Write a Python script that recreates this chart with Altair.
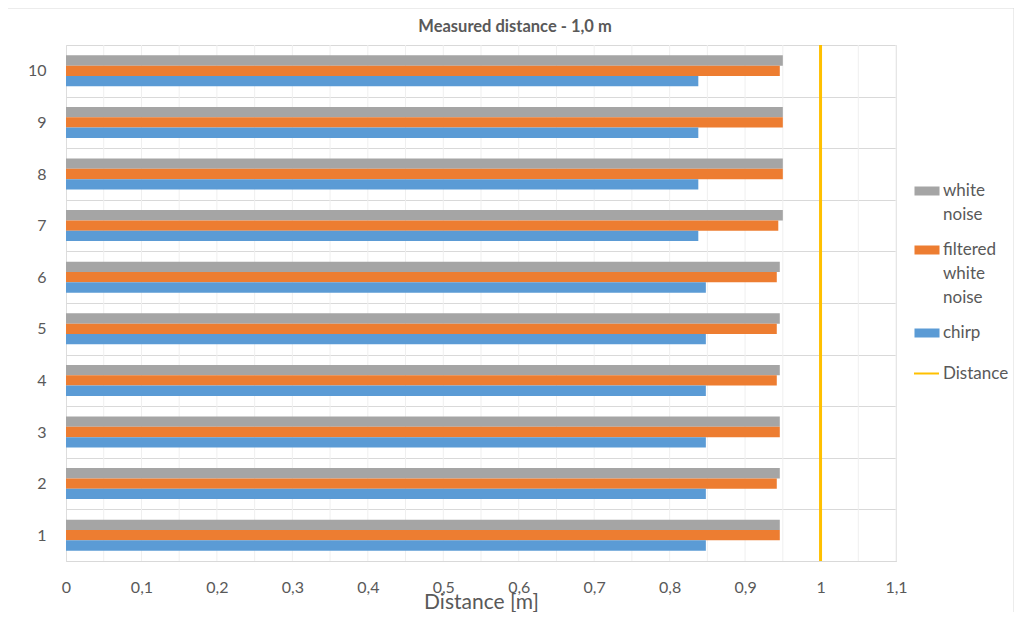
import altair as alt
import pandas as pd

categories = ["1", "2", "3", "4", "5", "6", "7", "8", "9", "10"]
white_noise = [0.946, 0.946, 0.946, 0.946, 0.946, 0.946, 0.95, 0.95, 0.95, 0.95]
filtered_white_noise = [0.946, 0.942, 0.946, 0.942, 0.942, 0.942, 0.944, 0.95, 0.95, 0.946]
chirp = [0.848, 0.848, 0.848, 0.848, 0.848, 0.848, 0.838, 0.838, 0.838, 0.838]
series = ["white noise", "filtered white noise", "chirp"]
series_colors = ["#A5A5A5", "#ED7D31", "#5B9BD5"]
distance = [1.0]
x_ticks = [0, 0.1, 0.2, 0.3, 0.4, 0.5, 0.6, 0.7, 0.8, 0.9, 1.0, 1.1]
x_grid = [0.05, 0.1, 0.15, 0.2, 0.25, 0.3, 0.35, 0.4, 0.45, 0.5, 0.55, 0.6,
          0.65, 0.7, 0.75, 0.8, 0.85, 0.9, 0.95, 1.0, 1.05, 1.1]

FONT = "Lato"
TXT = "#595959"

rows = []
for i, c in enumerate(categories):
    for s, vals in zip(series, [white_noise, filtered_white_noise, chirp]):
        rows.append({"run": c, "series": s, "value": vals[i]})
df = pd.DataFrame(rows)
grid_df = pd.DataFrame({"g": x_grid})
dist_df = pd.DataFrame({"d": distance, "name": ["Distance"]})

xscale = alt.Scale(domain=[0, 1.1], nice=False, zero=True)
yscale = alt.Scale(paddingInner=0, paddingOuter=0)
ysort = list(reversed(categories))

border = alt.Chart(pd.DataFrame({"a": [0]})).mark_rect(
    fillOpacity=0, stroke="#D9D9D9", strokeWidth=1
).encode(x=alt.value(-59), x2=alt.value(948), y=alt.value(-37), y2=alt.value(570))

grid = alt.Chart(grid_df).mark_rule(color="#EFEFEF", strokeWidth=1).encode(
    x=alt.X("g:Q", scale=xscale)
)

bars = alt.Chart(df).mark_bar().encode(
    x=alt.X("value:Q", scale=xscale,
            axis=alt.Axis(values=x_ticks, grid=False, ticks=False, zindex=1,
                          labelFlush=False,
                          domainColor="#D9D9D9", labelFont=FONT, labelFontSize=16,
                          labelColor=TXT, labelPadding=18,
                          labelExpr="replace(format(datum.value, '.1~f'), '.', ',')",
                          title="Distance [m]", titleFont=FONT, titleFontSize=21,
                          titleFontWeight="normal", titleColor=TXT, titlePadding=-4)),
    y=alt.Y("run:N", sort=ysort, scale=yscale,
            axis=alt.Axis(title=None, domain=False, ticks=False, grid=True,
                          gridColor="#D9D9D9", tickBand="extent",
                          labelFont=FONT, labelFontSize=16, labelColor=TXT,
                          labelPadding=20)),
    yOffset=alt.YOffset("series:N", sort=series,
                        scale=alt.Scale(domain=series, paddingOuter=1, paddingInner=0)),
    color=alt.Color("series:N", sort=series,
                    scale=alt.Scale(domain=series, range=series_colors),
                    legend=alt.Legend(title=None, orient="none", legendX=852, legendY=137,
                                      symbolType="M-1.39,-0.5H1.39V0.5H-1.39Z",
                                      symbolSize=324, symbolStrokeWidth=0,
                                      labelFont=FONT, labelFontSize=17, labelColor=TXT,
                                      labelOffset=7, labelLimit=200, rowPadding=18,
                                      labelExpr="split(datum.label, ' ')")),
)

rule = alt.Chart(dist_df).mark_rule(strokeWidth=3).encode(
    x=alt.X("d:Q", scale=xscale),
    stroke=alt.Stroke("name:N", scale=alt.Scale(domain=["Distance"], range=["#FFC000"]),
                      legend=alt.Legend(title=None, orient="none", legendX=847, legendY=315,
                                        symbolType="stroke", symbolSize=625,
                                        symbolStrokeWidth=2,
                                        labelFont=FONT, labelFontSize=17, labelColor=TXT,
                                        labelOffset=3)),
)

chart = alt.layer(border, grid, bars, rule).properties(
    width=830, height=516,
    autosize=alt.AutoSizeParams(type="none"),
    padding={"left": 58, "top": 37, "right": 118, "bottom": 51},
    title=alt.Title("Measured distance - 1,0 m", font=FONT, fontSize=16.5, fontWeight="bold",
                    color=TXT, anchor="middle", frame="group", dx=34, offset=-28),
).configure_view(stroke=None).configure(
    background="white", style={"guide-label": {"lineHeight": 24}}
)

chart.save("out.html", embed_options={"renderer": "svg", "actions": False})
